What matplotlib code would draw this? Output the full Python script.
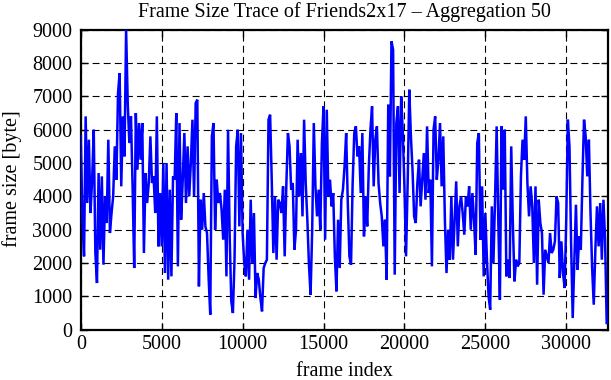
import matplotlib
matplotlib.use('Agg')
import matplotlib.pyplot as plt
import numpy as np

# Aggregated frame sizes [byte], one value per 100 frames
seg_00000_04000 = [5800, 3300, 2200, 6400, 3800, 5700, 3500, 4500, 6000, 2300,
                   1400, 4700, 2400, 4600, 1950, 4000, 3200, 5700, 2900, 3500,
                   4000, 5500, 4500, 7100, 7700, 4300, 6400, 5200, 9000, 6800,
                   5600, 6400, 4300, 1850, 6500, 4800, 6200, 5100, 6200, 2300,
                   4700]
seg_04100_08200 = [3800, 4400, 5800, 4400, 4600, 3500, 6400, 2500, 4100, 2500,
                   5000, 1700, 5000, 1500, 4200, 1600, 4600, 4500, 6500, 1900,
                   6200, 3300, 4500, 5900, 3800, 5500, 4000, 5000, 6300, 4000,
                   6800, 6900, 1300, 3900, 3000, 4100, 3100, 2900, 1550, 450,
                   5800, 6200]
seg_08300_12300 = [3000, 4500, 3800, 4100, 3600, 2700, 4200, 1600, 6000, 2800,
                   850, 500, 2100, 5500, 6000, 3100, 5900, 2900, 2000, 1600,
                   3000, 1500, 3900, 2000, 3500, 950, 1700, 1500, 950, 550,
                   1850, 2000, 2100, 6300, 6450, 4500, 2300, 4000, 2100, 3900,
                   3800]
seg_12400_16400 = [3500, 4300, 2200, 4300, 5900, 5500, 4200, 4400, 2400, 3000,
                   5700, 4000, 5300, 3400, 6300, 4400, 3300, 1950, 1050, 3000,
                   6200, 4300, 3400, 4200, 3000, 5600, 6700, 2700, 6600, 4000,
                   4500, 3700, 4100, 2200, 1150, 3300, 1850, 3900, 4200, 4900,
                   5900]
seg_16500_20500 = [3800, 2200, 1950, 4400, 5900, 6100, 5200, 5500, 4100, 5900,
                   2800, 4000, 3100, 4900, 6000, 6700, 4300, 5700, 6100, 4400,
                   3800, 3400, 2500, 3300, 1500, 6750, 4600, 8650, 8400, 1650,
                   6200, 6700, 4100, 7000, 5900, 4300, 2200, 4400, 7200, 5800,
                   4800]
seg_20600_24600 = [3400, 3200, 4400, 5100, 3700, 4500, 5300, 3900, 6100, 4100,
                   4500, 1900, 6000, 6400, 4500, 5100, 6200, 4300, 5800, 3300,
                   1700, 3000, 2100, 4000, 2100, 3300, 4450, 2500, 3700, 4000,
                   3500, 2850, 4000, 3700, 4300, 3000, 4100, 3300, 2250, 5600,
                   5900]
seg_24700_28700 = [2700, 4300, 1600, 3500, 2100, 1000, 600, 3700, 2000, 3900,
                   6100, 3300, 900, 6100, 4200, 6000, 1600, 2100, 1550, 5500,
                   3200, 1450, 2100, 1900, 2000, 4600, 5700, 5100, 6400, 4400,
                   3400, 4300, 3700, 2000, 4300, 1350, 3900, 3200, 2900, 1050,
                   2400]
seg_28800_32500 = [2200, 2000, 2900, 2300, 2400, 2650, 4000, 3800, 1550, 2650,
                   1700, 1250, 3300, 6300, 5500, 2600, 350, 2100, 3750, 1800,
                   2800, 2400, 4500, 6300, 5800, 4600, 5700, 3500, 1850, 750,
                   2400, 3700, 2500, 3800, 2100, 3900, 2700, 200]

frame_step = 100
x_max = 32550
x_ticks = [0, 5000, 10000, 15000, 20000, 25000, 30000]
y_ticks = [0, 1000, 2000, 3000, 4000, 5000, 6000, 7000, 8000, 9000]

title = "Frame Size Trace of Friends2x17 \u2013 Aggregation 50"
x_label = "frame index"
y_label = "frame size [byte]"

sizes = np.array(seg_00000_04000 + seg_04100_08200 + seg_08300_12300 +
                 seg_12400_16400 + seg_16500_20500 + seg_20600_24600 +
                 seg_24700_28700 + seg_28800_32500, dtype=float)
frames = np.arange(len(sizes)) * frame_step

plt.rcParams['font.family'] = ['Liberation Serif', 'DejaVu Serif']
plt.rcParams['lines.scale_dashes'] = False

W, H = 611, 380
fs = 14.5
fig = plt.figure(figsize=(W / 100, H / 100), dpi=100)
left, right, top, bottom = 80.8, 607.5, 29.7, 329.7
ax = fig.add_axes([left / W, 1 - bottom / H, (right - left) / W, (bottom - top) / H])

ax.plot(frames, sizes, color='#0000ff', lw=1.8, zorder=3, solid_joinstyle='miter')
ax.set_xlim(0, x_max)
ax.set_ylim(0, 9000)
ax.set_xticks(x_ticks)
ax.set_yticks(y_ticks)
ax.set_axisbelow(True)
ax.grid(True, color='black', linestyle=(0, (5, 3)), linewidth=0.8)
ax.tick_params(direction='in', length=5, width=1.0, top=True, right=True,
               labelsize=fs, colors='black')
ax.tick_params(axis='y', pad=6)
ax.tick_params(axis='x', pad=4)
for s in ax.spines.values():
    s.set_linewidth(1.6)
    s.set_color('black')

cx = (left + right) / 2 / W
fig.text(cx, 1 - 12 / H, title, ha='center', va='center', fontsize=fs)
fig.text(cx, 1 - 372 / H, x_label, ha='center', va='center', fontsize=fs)
fig.text(12 / W, 1 - 179 / H, y_label, ha='center', va='center', rotation=90, fontsize=fs)

fig.savefig('out.png', dpi=100)
